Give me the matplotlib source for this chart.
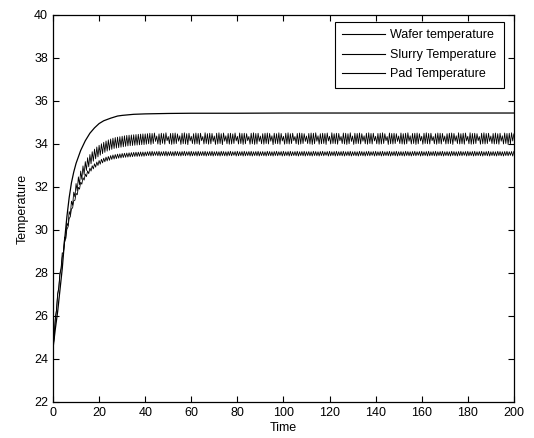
import matplotlib
matplotlib.use("Agg")
import matplotlib.pyplot as plt

plt.rcParams['font.family'] = ['Liberation Sans', 'DejaVu Sans']

# wafer temperature (smooth curve)
wafer_t = [0, 1, 2, 3, 4, 5, 6, 7, 8, 9, 10, 12, 14, 16, 18, 20, 22, 25, 28, 30,
           35, 40, 50, 60, 80, 100, 150, 200]
wafer_T = [24.5, 25.4, 26.2, 27.2, 28.2, 29.5, 30.6, 31.5, 32.2, 32.7, 33.1, 33.7,
           34.15, 34.5, 34.75, 34.95, 35.08, 35.2, 35.3, 35.33, 35.38, 35.4, 35.42,
           35.43, 35.43, 35.44, 35.44, 35.44]

# slurry and pad temperature, sampled every 0.5 time unit (0..200)
time = [0.5 * i for i in range(401)]

slurry_T = [
    # 0 .. 40
    24.50, 25.05, 25.90, 26.27, 27.03, 27.32, 28.00, 28.22, 28.94, 28.91,
    29.67, 29.60, 30.32, 30.19, 30.86, 30.70, 31.34, 31.15, 31.76, 31.54,
    32.16, 31.82, 32.47, 32.11, 32.74, 32.36, 32.98, 32.58, 33.18, 32.77,
    33.36, 32.94, 33.51, 33.08, 33.64, 33.20, 33.76, 33.31, 33.86, 33.40,
    33.94, 33.48, 34.01, 33.55, 34.08, 33.61, 34.14, 33.67, 34.19, 33.71,
    34.23, 33.75, 34.27, 33.79, 34.30, 33.81, 34.32, 33.83, 34.34, 33.85,
    34.36, 33.87, 34.38, 33.89, 34.40, 33.91, 34.41, 33.92, 34.42, 33.93,
    34.43, 33.94, 34.44, 33.95, 34.45, 33.96, 34.46, 33.97, 34.47, 33.97,
    34.47,
    # 40.5 .. 200
    33.99, 34.48, 34.01, 34.50, 33.98, 34.49, 34.02, 34.51, 34.12, 34.37, 34.00, 34.47, 33.97, 34.50, 34.03, 34.48, 33.99, 34.52, 34.15, 34.35,
    34.01, 34.49, 33.98, 34.50, 34.00, 34.51, 34.02, 34.47, 34.13, 34.38, 33.98, 34.50, 34.01, 34.52, 34.00, 34.48, 33.97, 34.50, 34.14, 34.36,
    34.02, 34.48, 33.99, 34.51, 34.01, 34.49, 33.98, 34.50, 34.15, 34.35, 34.00, 34.52, 34.02, 34.48, 33.99, 34.50, 34.01, 34.49, 34.12, 34.37,
    33.98, 34.50, 34.00, 34.52, 34.02, 34.48, 33.97, 34.51, 34.13, 34.38, 34.01, 34.49, 33.99, 34.50, 34.00, 34.47, 34.02, 34.51, 34.14, 34.36,
    34.00, 34.51, 34.02, 34.49, 33.98, 34.50, 34.01, 34.48, 34.15, 34.35, 33.99, 34.50, 34.01, 34.52, 33.98, 34.49, 34.00, 34.50, 34.12, 34.37,
    34.01, 34.48, 33.99, 34.50, 34.02, 34.51, 34.00, 34.49, 34.13, 34.38, 33.97, 34.50, 34.02, 34.48, 34.01, 34.52, 33.99, 34.49, 34.14, 34.36,
    33.99, 34.50, 34.01, 34.52, 34.00, 34.48, 34.02, 34.50, 34.15, 34.35, 34.01, 34.49, 33.98, 34.51, 34.00, 34.50, 34.02, 34.48, 34.12, 34.37,
    34.02, 34.49, 34.00, 34.51, 33.98, 34.50, 34.01, 34.52, 34.13, 34.38, 33.99, 34.48, 34.01, 34.50, 34.02, 34.49, 33.98, 34.51, 34.14, 34.36,
    34.00, 34.52, 34.02, 34.48, 34.01, 34.50, 33.99, 34.49, 34.15, 34.35, 34.02, 34.51, 34.00, 34.50, 33.98, 34.48, 34.01, 34.52, 34.12, 34.37,
    33.98, 34.50, 34.01, 34.49, 34.02, 34.51, 34.00, 34.48, 34.13, 34.38, 34.01, 34.50, 33.99, 34.52, 34.02, 34.49, 34.00, 34.50, 34.14, 34.36,
    34.01, 34.49, 33.99, 34.50, 34.00, 34.52, 34.02, 34.48, 34.15, 34.35, 33.98, 34.51, 34.01, 34.49, 34.00, 34.50, 34.02, 34.48, 34.12, 34.37,
    34.02, 34.51, 34.00, 34.48, 33.99, 34.50, 34.01, 34.52, 34.13, 34.38, 34.00, 34.49, 34.02, 34.50, 33.98, 34.51, 34.01, 34.48, 34.14, 34.36,
    33.99, 34.50, 34.02, 34.52, 34.01, 34.49, 34.00, 34.50, 34.15, 34.35, 34.01, 34.48, 33.99, 34.51, 34.02, 34.50, 34.00, 34.49, 34.12, 34.37,
    34.00, 34.48, 34.01, 34.50, 34.02, 34.51, 33.98, 34.49, 34.13, 34.38, 34.02, 34.52, 34.00, 34.48, 34.01, 34.50, 33.99, 34.51, 34.14, 34.36,
    34.01, 34.52, 33.99, 34.49, 34.00, 34.50, 34.02, 34.48, 34.15, 34.35, 33.99, 34.50, 34.01, 34.52, 34.00, 34.49, 34.02, 34.50, 34.12, 34.37,
    34.02, 34.49, 34.00, 34.51, 34.01, 34.48, 33.99, 34.50, 34.13, 34.38, 34.00, 34.51, 34.02, 34.49, 33.98, 34.50, 34.01, 34.52, 34.14, 34.47,
]

pad_T = [
    # 0 .. 40
    24.50, 25.08, 25.86, 26.28, 26.97, 27.31, 27.92, 28.19, 28.73, 28.94,
    29.43, 29.59, 30.03, 30.14, 30.53, 30.62, 30.98, 31.03, 31.36, 31.38,
    31.70, 31.64, 31.98, 31.90, 32.22, 32.13, 32.43, 32.32, 32.60, 32.48,
    32.75, 32.62, 32.88, 32.74, 32.99, 32.84, 33.08, 32.92, 33.16, 33.00,
    33.23, 33.06, 33.29, 33.12, 33.34, 33.17, 33.39, 33.21, 33.42, 33.24,
    33.46, 33.28, 33.49, 33.30, 33.51, 33.32, 33.53, 33.34, 33.54, 33.35,
    33.56, 33.37, 33.57, 33.38, 33.58, 33.39, 33.59, 33.40, 33.60, 33.41,
    33.61, 33.42, 33.62, 33.42, 33.62, 33.43, 33.63, 33.43, 33.63, 33.43,
    33.63,
    # 40.5 .. 200
    33.45, 33.64, 33.46, 33.65, 33.44, 33.66, 33.45, 33.64, 33.47, 33.65, 33.45, 33.66, 33.44, 33.64, 33.46, 33.65, 33.45, 33.66, 33.44, 33.64,
    33.46, 33.65, 33.45, 33.64, 33.44, 33.66, 33.46, 33.65, 33.45, 33.64, 33.44, 33.65, 33.46, 33.66, 33.45, 33.64, 33.47, 33.65, 33.44, 33.66,
    33.45, 33.64, 33.46, 33.65, 33.44, 33.66, 33.45, 33.64, 33.46, 33.65, 33.45, 33.66, 33.44, 33.64, 33.46, 33.65, 33.45, 33.66, 33.44, 33.64,
    33.46, 33.65, 33.45, 33.64, 33.44, 33.66, 33.46, 33.65, 33.45, 33.64, 33.44, 33.65, 33.46, 33.66, 33.45, 33.64, 33.47, 33.65, 33.44, 33.66,
    33.45, 33.64, 33.46, 33.65, 33.44, 33.66, 33.45, 33.64, 33.46, 33.65, 33.45, 33.66, 33.44, 33.64, 33.46, 33.65, 33.45, 33.66, 33.44, 33.64,
    33.46, 33.65, 33.45, 33.64, 33.44, 33.66, 33.46, 33.65, 33.45, 33.64, 33.44, 33.65, 33.46, 33.66, 33.45, 33.64, 33.47, 33.65, 33.44, 33.66,
    33.45, 33.64, 33.46, 33.65, 33.44, 33.66, 33.45, 33.64, 33.46, 33.65, 33.45, 33.66, 33.44, 33.64, 33.46, 33.65, 33.45, 33.66, 33.44, 33.64,
    33.46, 33.65, 33.45, 33.64, 33.44, 33.66, 33.46, 33.65, 33.45, 33.64, 33.44, 33.65, 33.46, 33.66, 33.45, 33.64, 33.47, 33.65, 33.44, 33.66,
    33.45, 33.64, 33.46, 33.65, 33.44, 33.66, 33.45, 33.64, 33.46, 33.65, 33.45, 33.66, 33.44, 33.64, 33.46, 33.65, 33.45, 33.66, 33.44, 33.64,
    33.46, 33.65, 33.45, 33.64, 33.44, 33.66, 33.46, 33.65, 33.45, 33.64, 33.44, 33.65, 33.46, 33.66, 33.45, 33.64, 33.47, 33.65, 33.44, 33.66,
    33.45, 33.64, 33.46, 33.65, 33.44, 33.66, 33.45, 33.64, 33.46, 33.65, 33.45, 33.66, 33.44, 33.64, 33.46, 33.65, 33.45, 33.66, 33.44, 33.64,
    33.46, 33.65, 33.45, 33.64, 33.44, 33.66, 33.46, 33.65, 33.45, 33.64, 33.44, 33.65, 33.46, 33.66, 33.45, 33.64, 33.47, 33.65, 33.44, 33.66,
    33.45, 33.64, 33.46, 33.65, 33.44, 33.66, 33.45, 33.64, 33.46, 33.65, 33.45, 33.66, 33.44, 33.64, 33.46, 33.65, 33.45, 33.66, 33.44, 33.64,
    33.46, 33.65, 33.45, 33.64, 33.44, 33.66, 33.46, 33.65, 33.45, 33.64, 33.44, 33.65, 33.46, 33.66, 33.45, 33.64, 33.47, 33.65, 33.44, 33.66,
    33.45, 33.64, 33.46, 33.65, 33.44, 33.66, 33.45, 33.64, 33.46, 33.65, 33.45, 33.66, 33.44, 33.64, 33.46, 33.65, 33.45, 33.66, 33.44, 33.64,
    33.46, 33.65, 33.45, 33.64, 33.44, 33.66, 33.46, 33.65, 33.45, 33.64, 33.44, 33.65, 33.46, 33.66, 33.45, 33.64, 33.47, 33.65, 33.44, 33.66,
]

xticks = list(range(0, 201, 20))
yticks = list(range(22, 41, 2))

fig = plt.figure(figsize=(5.34, 4.38), dpi=100)
ax = fig.add_axes([0.0993, 0.0822, 0.863, 0.8836])

ax.plot(wafer_t, wafer_T, color="black", lw=0.9, label="Wafer temperature")
ax.plot(time, slurry_T, color="black", lw=0.6, label="Slurry Temperature")
ax.plot(time, pad_T, color="black", lw=0.6, label="Pad Temperature")

ax.set_xlim(0, 200)
ax.set_ylim(22, 40)
ax.set_xticks(xticks)
ax.set_yticks(yticks)
ax.tick_params(direction="in", length=4, width=0.8, labelsize=9,
               top=True, right=True, colors="black")
for s in ax.spines.values():
    s.set_linewidth(0.9)

ax.set_xlabel("Time", fontsize=9, labelpad=2)
ax.set_ylabel("Temperature", fontsize=9, labelpad=4)

leg = ax.legend(loc="upper right", bbox_to_anchor=(0.978, 0.982), borderaxespad=0,
                fontsize=9, frameon=True, fancybox=False, edgecolor="black",
                framealpha=1, borderpad=0.6, handlelength=3.4, handletextpad=0.4,
                labelspacing=0.6)
leg.get_frame().set_linewidth(0.8)
for h in leg.get_lines():
    h.set_linewidth(0.8)

fig.savefig("out.png", dpi=100)
